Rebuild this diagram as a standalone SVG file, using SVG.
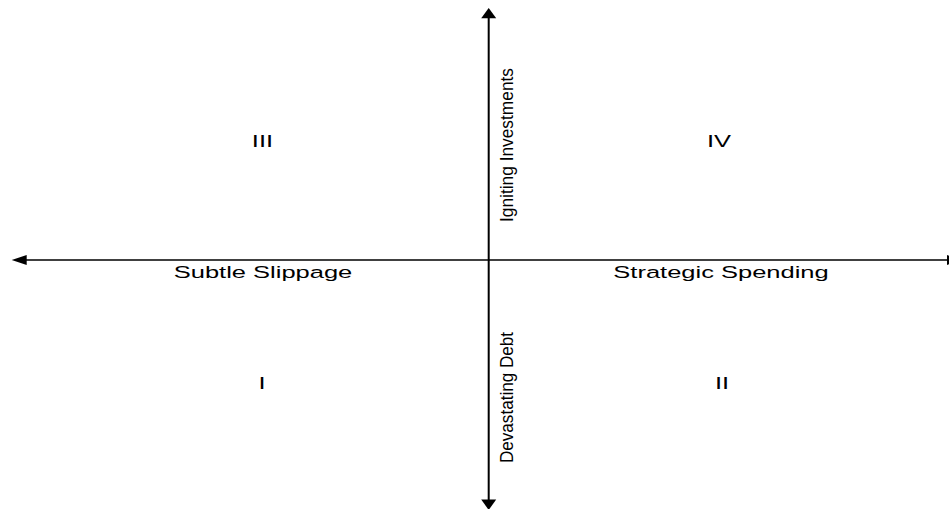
<svg xmlns="http://www.w3.org/2000/svg" width="949" height="509" viewBox="0 0 949 509">
  <style>
    .lbl { font-family: "Liberation Sans", Arial, sans-serif; font-size: 17px; fill: #000; }
    .vlbl { font-family: "Liberation Sans", Arial, sans-serif; font-size: 19px; fill: #000; }
    .axis { stroke: #000; fill: none; }
    .head { fill: #000; stroke: none; }
  </style>
  <rect x="0" y="0" width="949" height="509" fill="#fff"/>
  <g id="connectors">
    <line class="axis" x1="488.7" y1="16" x2="488.7" y2="501" stroke-width="2"/>
    <polygon class="head" points="488.7,8 481.2,18.3 496.2,18.3"/>
    <polygon class="head" points="488.7,510 481.2,499.5 496.2,499.5"/>
    <line class="axis" x1="24" y1="260" x2="949" y2="260" stroke-width="1.4"/>
    <polygon class="head" points="11.7,260 26.7,255 26.7,265"/>
    <polygon class="head" points="962,260 947,255 947,265"/>
  </g>
  <g id="axis-y-top">
    <text class="vlbl" transform="translate(513,145) rotate(-90)" text-anchor="middle" textLength="154" lengthAdjust="spacingAndGlyphs">Igniting Investments</text>
  </g>
  <g id="axis-y-bottom">
    <text class="vlbl" transform="translate(513,397.5) rotate(-90)" text-anchor="middle" textLength="131" lengthAdjust="spacingAndGlyphs">Devastating Debt</text>
  </g>
  <g id="axis-x-left">
    <text class="lbl" transform="translate(263,278) scale(1.5,1)" text-anchor="middle">Subtle Slippage</text>
  </g>
  <g id="axis-x-right">
    <text class="lbl" transform="translate(721,278) scale(1.5,1)" text-anchor="middle">Strategic Spending</text>
  </g>
  <g id="q3">
    <text class="lbl" transform="translate(262.5,147) scale(1.5,1)" text-anchor="middle">III</text>
  </g>
  <g id="q4">
    <text class="lbl" transform="translate(719,147) scale(1.5,1)" text-anchor="middle">IV</text>
  </g>
  <g id="q1">
    <text class="lbl" transform="translate(262,389) scale(1.5,1)" text-anchor="middle">I</text>
  </g>
  <g id="q2">
    <text class="lbl" transform="translate(722,389) scale(1.5,1)" text-anchor="middle">II</text>
  </g>
</svg>
